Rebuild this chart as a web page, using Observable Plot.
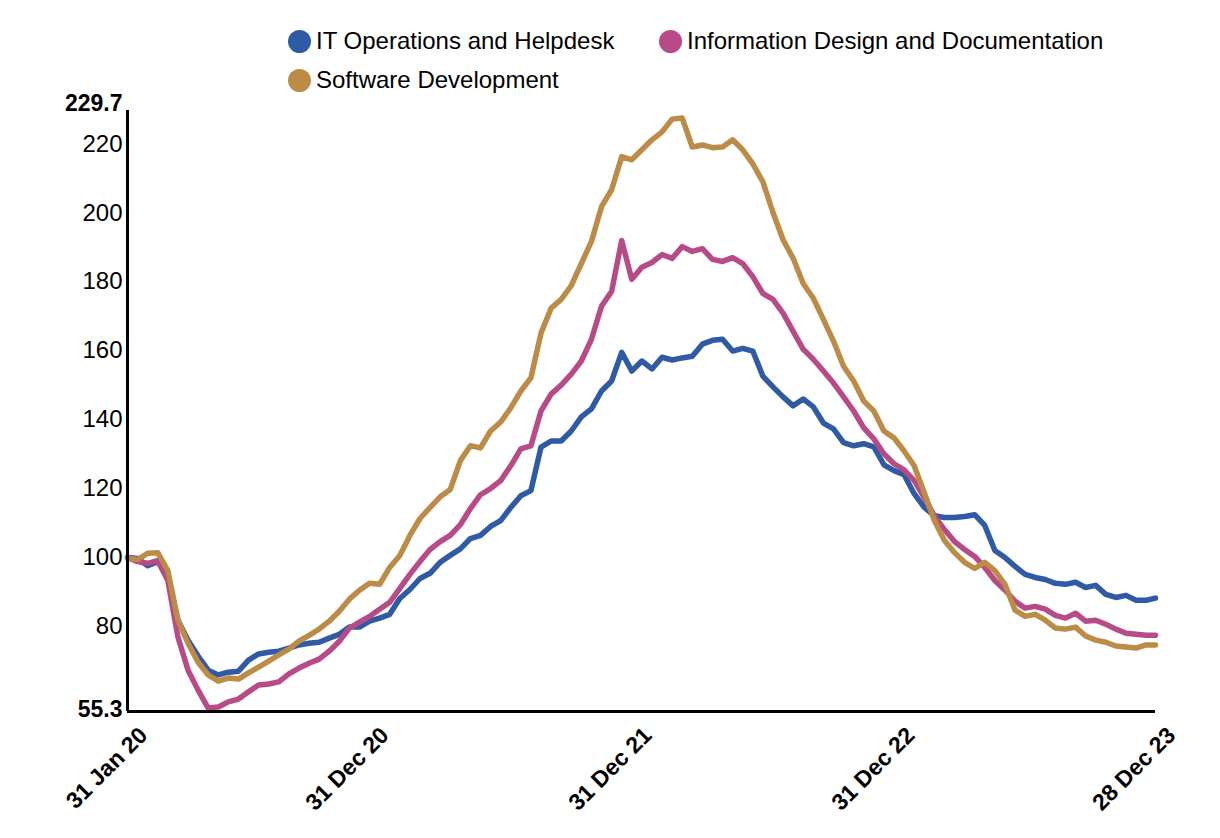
<!DOCTYPE html>
<html><head><meta charset="utf-8">
<script src="https://cdn.jsdelivr.net/npm/d3@7"></script>
<script src="https://cdn.jsdelivr.net/npm/@observablehq/plot@0.6"></script>
<style>
body{margin:0;background:#fff;font-family:"Liberation Sans",Arial,sans-serif;}
#legend{position:relative;height:80px;width:1220px;}
.item{position:absolute;display:flex;align-items:center;font-size:24px;color:#000;line-height:26px;}
.dot{width:23px;height:23px;border-radius:50%;margin-right:5px;}
</style></head><body>
<div id="legend"></div>
<div id="chart"></div>
<script>
const seriesNames = ["IT Operations and Helpdesk", "Information Design and Documentation", "Software Development"];
const seriesColors = ["#2f5aa6", "#b84b87", "#bc8c47"];
const startDate = "2020-01-31";
const endDate = "2023-12-28";
const stepDays = 14;

const itOps = [100,99.7,97.6,98.8,94.2,81.8,76.0,71.4,67.3,65.9,66.7,67.0,70.2,72.0,72.5,72.8,73.7,74.6,75.1,75.4,
76.6,77.7,79.8,79.8,81.5,82.4,83.5,88.1,90.7,93.9,95.4,98.6,100.6,102.5,105.5,106.4,109.0,110.7,114.5,117.9,
119.4,132.0,133.8,133.8,136.7,140.8,143.1,148.3,151.2,159.5,154.1,157.0,154.7,158.1,157.3,157.9,158.4,161.9,163.0,163.3,
159.9,160.7,159.9,152.6,149.5,146.6,144.0,146.0,143.7,139.0,137.3,133.3,132.4,133.0,132.1,126.9,125.2,124.0,118.5,114.5,
112.1,111.6,111.6,111.9,112.4,109.3,102.0,100.0,97.4,95.1,94.2,93.6,92.5,92.2,92.8,91.3,91.9,89.3,88.4,89.0,
87.6,87.6,88.2];

const infoDesign = [100,98.8,98.3,99.1,93.3,76.9,67.3,61.5,56.3,56.6,58.1,58.9,61.0,63.0,63.3,63.9,66.2,67.9,69.3,70.5,
72.8,75.7,79.5,81.2,82.9,85.0,87.0,91.0,95.1,98.8,102.3,104.6,106.4,109.5,114.2,118.2,120.0,122.3,126.6,131.5,
132.4,142.5,147.4,150.0,153.2,157.0,163.3,172.9,177.2,192.0,180.7,184.2,185.6,187.9,186.8,190.2,188.8,189.6,186.5,185.9,
187.0,185.3,181.5,176.6,174.9,170.9,165.6,160.4,157.5,154.1,150.6,146.6,142.5,137.6,134.4,130.1,127.2,125.4,122.3,117.4,
112.1,108.1,104.6,102.3,100.3,97.1,93.3,90.5,87.3,85.3,85.8,85.0,83.2,82.4,83.8,81.5,81.8,80.6,79.2,78.0,
77.7,77.4,77.4];

const softwareDev = [99.7,99.4,101.2,101.4,96.2,81.8,75.1,69.6,65.9,64.1,65.0,64.7,66.5,68.2,69.9,71.7,73.4,75.7,77.4,79.2,
81.5,84.4,87.9,90.5,92.5,92.2,97.1,100.6,106.4,111.3,114.5,117.6,119.7,128.1,132.4,131.8,136.7,139.3,143.4,148.3,
152.1,165.1,172.3,174.9,178.9,185.3,191.7,201.8,206.7,216.3,215.4,218.3,221.2,223.5,227.2,227.5,219.1,219.7,218.9,219.1,
221.2,218.3,214.2,209.0,200.1,192.2,186.8,179.5,175.2,169.1,162.8,155.5,151.2,145.4,142.5,136.7,134.7,130.9,126.6,118.8,
110.7,104.9,101.4,98.6,96.8,98.6,96.2,92.2,84.7,82.9,83.5,81.8,79.5,79.2,79.8,77.2,76.0,75.4,74.3,74.0,
73.7,74.6,74.6];

const xTickDates = ["2020-01-31", "2020-12-31", "2021-12-31", "2022-12-31", "2023-12-28"];
const yTicks = [80, 100, 120, 140, 160, 180, 200, 220];
const yMin = 55.3;
const yMax = 229.7;

// legend
const legendPos = [[288, 28], [659, 28], [288, 67]];
const legend = document.getElementById("legend");
seriesNames.forEach((name, i) => {
  const it = document.createElement("div");
  it.className = "item";
  it.style.left = legendPos[i][0] + "px";
  it.style.top = legendPos[i][1] + "px";
  const dot = document.createElement("span");
  dot.className = "dot";
  dot.style.background = seriesColors[i];
  const t = document.createElement("span");
  t.textContent = name;
  it.appendChild(dot); it.appendChild(t);
  legend.appendChild(it);
});

const parse = d3.utcParse("%Y-%m-%d");
const start = parse(startDate), end = parse(endDate);
const dates = itOps.map((_, i) => i === itOps.length - 1 ? end : d3.utcDay.offset(start, i * stepDays));

const data = [];
[itOps, infoDesign, softwareDev].forEach((vals, s) => {
  vals.forEach((v, i) => data.push({date: dates[i], value: v, series: seriesNames[s]}));
});

const chart = Plot.plot({
  width: 1220,
  height: 758,
  marginLeft: 127,
  marginRight: 65,
  marginTop: 30,
  marginBottom: 127,
  style: {fontFamily: '"Liberation Sans", Arial, sans-serif', fontSize: "24px", color: "#000", background: "#fff"},
  x: {type: "utc", domain: [start, end], label: null},
  y: {domain: [yMin, yMax], label: null},
  color: {domain: seriesNames, range: seriesColors},
  marks: [
    Plot.axisY(yTicks, {tickSize: 0, tickPadding: 5, fontSize: 24, label: null}),
    Plot.axisY([yMax], {tickSize: 0, tickPadding: 5, dy: -7, fontSize: 23, fontWeight: "bold", label: null, tickFormat: d => d.toFixed(1)}),
    Plot.axisY([yMin], {tickSize: 0, tickPadding: 5, dy: -2, fontSize: 23, fontWeight: "bold", label: null, tickFormat: d => d.toFixed(1)}),
    Plot.axisX(xTickDates.map(parse), {tickSize: 0, tickRotate: -45, tickPadding: 8, dx: 16, dy: 12, fontSize: 23, fontWeight: "bold", label: null, tickFormat: d3.utcFormat("%d %b %y")}),
    Plot.line(data, {x: "date", y: "value", z: "series", stroke: "series", strokeWidth: 5.5, strokeLinejoin: "round", strokeLinecap: "round"}),
    Plot.ruleX([start], {stroke: "#000", strokeWidth: 3}),
    Plot.ruleY([yMin], {stroke: "#000", strokeWidth: 3})
  ]
});
document.getElementById("chart").appendChild(chart);
</script>
</body></html>
